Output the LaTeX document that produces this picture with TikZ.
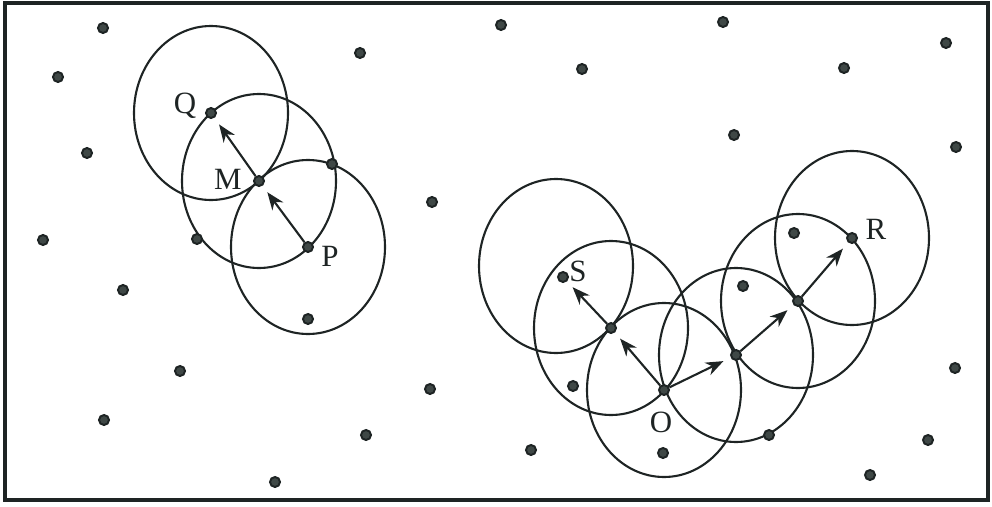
\documentclass[tikz,border=0pt]{standalone}
\usepackage{fontspec}
\setmainfont{Liberation Serif}
\usepackage{tikz}
\usetikzlibrary{arrows.meta,backgrounds}
\definecolor{ink}{HTML}{1E2424}
\definecolor{seed}{HTML}{3F4846}

\begin{document}
\begin{tikzpicture}[
  x=0.025cm, y=-0.025cm,
  sensor/.style={circle, draw=ink, fill=seed, line width=1.4pt, inner sep=0pt, minimum size=0.25cm},
  zone/.style={draw=ink, line width=1.5pt},
  hop/.style={-{Stealth[length=4.4mm,width=3.4mm,inset=1.4mm]}, draw=ink, line width=1.5pt, shorten >=0.2cm},
  tag/.style={font=\fontsize{22}{26}\selectfont, text=ink, inner sep=0pt}
]
  \useasboundingbox (0,0) rectangle (992,506);
  \draw[ink, line width=2.2pt] (5,3) rectangle (988,500);

  % labelled sensors
  \node[sensor] (q) at (211,113) {};
  \node[sensor] (m) at (259,181) {};
  \node[sensor] (p) at (308,247) {};
  \node[sensor] (s) at (563,277) {};
  \node[sensor] (a) at (611,328) {};
  \node[sensor] (o) at (664,390) {};
  \node[sensor] (b) at (736,355) {};
  \node[sensor] (c) at (798,301) {};
  \node[sensor] (r) at (852,238) {};
  \coordinate (sc) at (556,266);

  \node[tag] (qtag) at (185,106) {Q};
  \node[tag] (mtag) at (228,179) {M};
  \node[tag] (ptag) at (330,256) {P};
  \node[tag] (stag) at (578,271) {S};
  \node[tag] (otag) at (661,422) {O};
  \node[tag] (rtag) at (876,229) {R};

  % other sensors in the field
  \foreach \pt [count=\i] in {(103,28),(58,77),(360,53),(87,153),(332,164),(432,202),
      (43,240),(197,239),(123,290),(308,319),(180,371),(430,389),(104,420),(366,435),
      (275,482),(501,25),(723,22),(582,69),(946,43),(844,68),(734,135),(956,147),
      (794,233),(743,286),(573,386),(955,368),(769,435),(531,450),(663,453),(928,440),
      (870,475)}
    \node[sensor] (d\i) at \pt {};

  % coverage ranges
  \begin{scope}[on background layer]
    \foreach \n in {q,m,p,sc,a,o,b,c,r}
      \draw[zone] (\n) ellipse [x radius=77, y radius=87];
  \end{scope}

  \draw[hop] (p) -- (m);
  \draw[hop] (m) -- (q);
  \draw[hop] (o) -- (a);
  \draw[hop] (a) -- (s);
  \draw[hop] (o) -- (b);
  \draw[hop] (b) -- (c);
  \draw[hop] (c) -- (r);
\end{tikzpicture}
\end{document}
